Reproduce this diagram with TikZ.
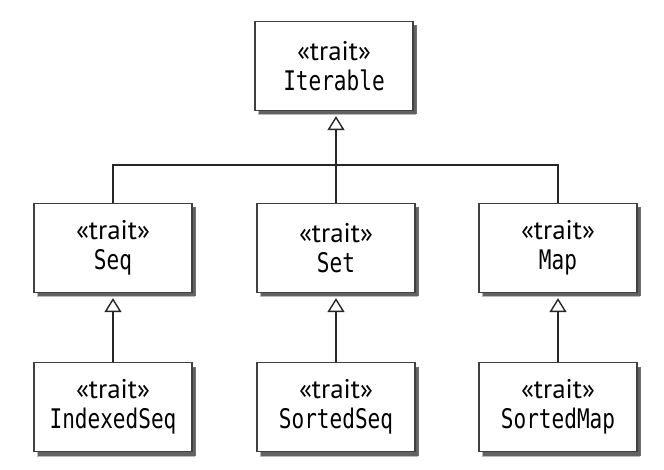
\documentclass[tikz,border=0pt]{standalone}
\usepackage{fontspec}
\setmainfont{PT Sans}
\newfontfamily\codefont[FakeStretch=0.78]{DejaVu Sans Mono}
\usetikzlibrary{shadows,arrows.meta}
\tikzset{
  trait/.style={draw=black!75, line width=1.3pt, fill=white,
    minimum width=158pt, minimum height=89pt, inner sep=0pt,
    align=center, font=\fontsize{27}{30}\selectfont,
    drop shadow={shadow xshift=3pt, shadow yshift=-5pt, fill=black!45, opacity=0.6},
    drop shadow={shadow xshift=4pt, shadow yshift=-4pt, fill=black!70, opacity=0.8}},
  link/.style={draw=black!85, line width=1.5pt},
  inherit/.style={link, -{Triangle[open, width=17pt, length=14pt, line width=1.4pt]}, shorten >=5pt}
}
\newcommand{\tname}[1]{{\codefont\fontsize{27}{30}\selectfont #1}}
\begin{document}
\begin{tikzpicture}[x=1pt,y=-1pt]
\useasboundingbox[fill=white] (0,0) rectangle (664,470);
\node[trait] (iter) at (334,66) {«trait»\\\tname{Iterable}};
\node[trait] (seq) at (113,248) {«trait»\\\tname{Seq}};
\node[trait] (set) at (336,248) {«trait»\\\tname{Set}};
\node[trait] (map) at (558,248) {«trait»\\\tname{Map}};
\node[trait] (iseq) at (113,407) {«trait»\\\tname{IndexedSeq}};
\node[trait] (sseq) at (336,407) {«trait»\\\tname{SortedSeq}};
\node[trait] (smap) at (558,407) {«trait»\\\tname{SortedMap}};
\coordinate (bus) at (336,165);
\draw[link] (seq.north) |- (bus) -| (map.north);
\draw[link] (set.north) -- (bus);
\draw[inherit] (bus) -- (bus |- iter.south);
\draw[inherit] (iseq.north) -- (seq.south);
\draw[inherit] (sseq.north) -- (set.south);
\draw[inherit] (smap.north) -- (map.south);
\end{tikzpicture}
\end{document}
